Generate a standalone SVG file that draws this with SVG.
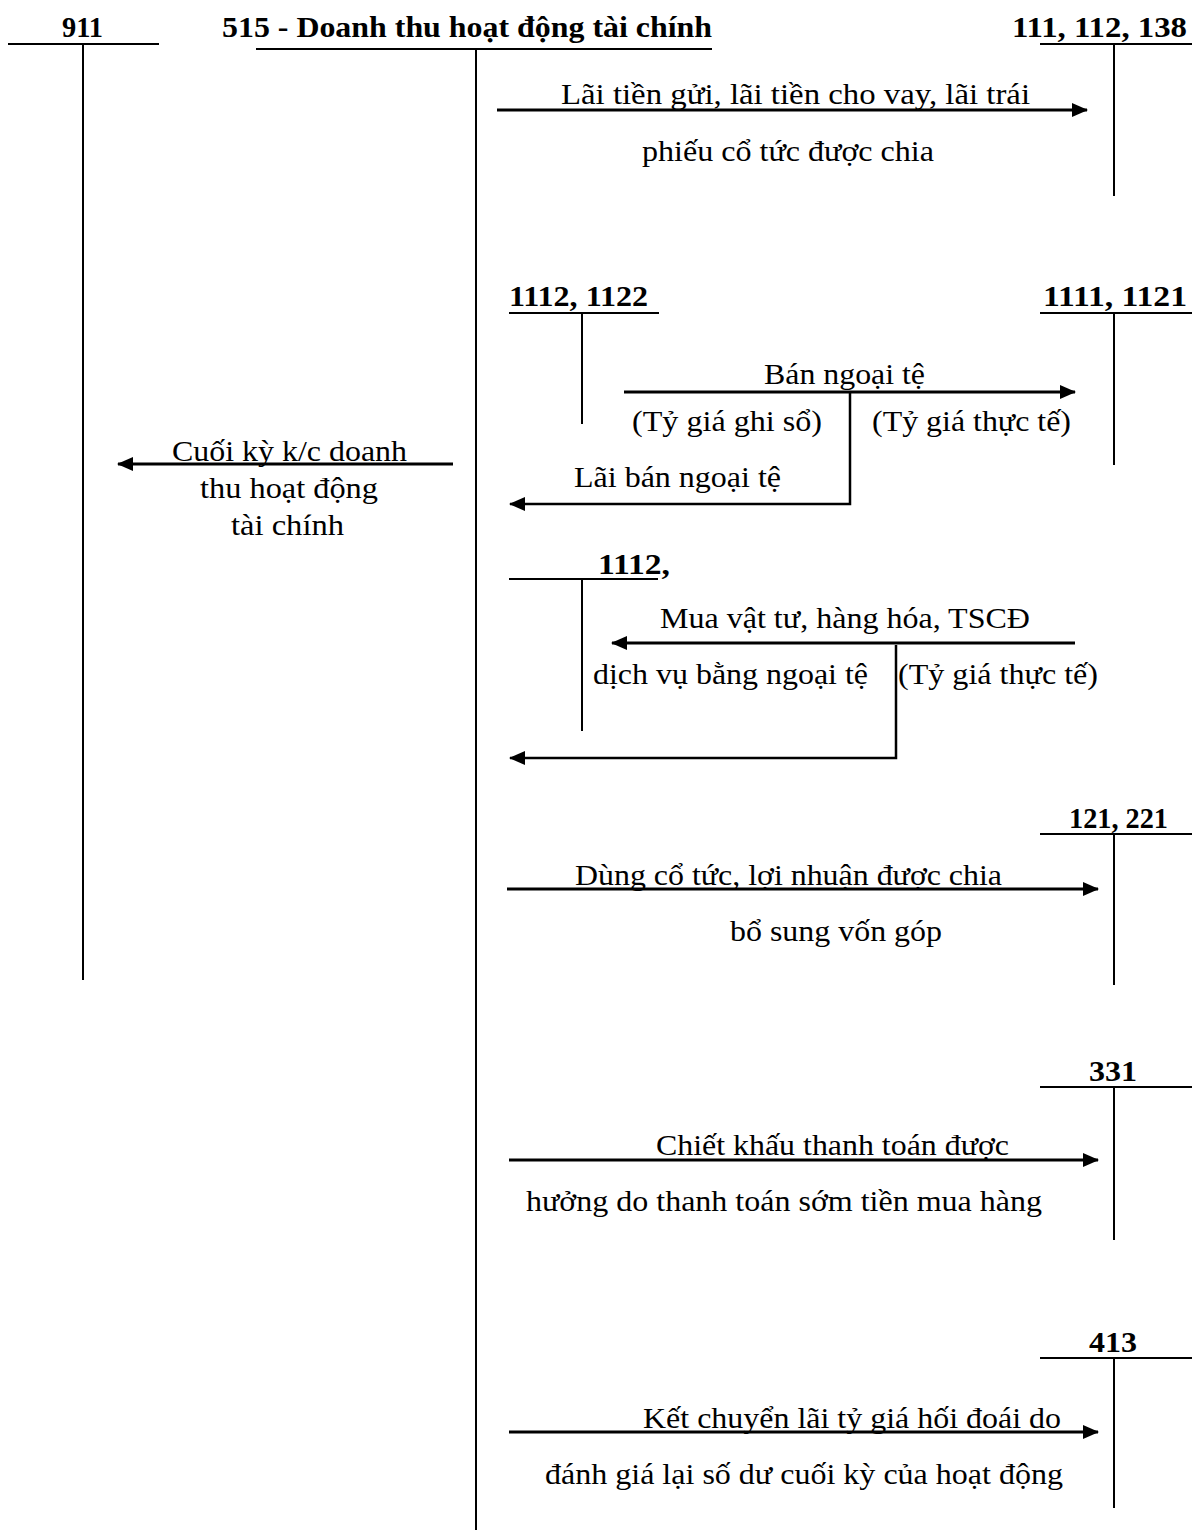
<svg xmlns="http://www.w3.org/2000/svg" width="1192" height="1530" viewBox="0 0 1192 1530">
<defs>
<style>
.h{font-family:"Liberation Serif","Times New Roman",serif;font-weight:bold;font-size:29px;fill:#000}
.t{font-family:"Liberation Serif","Times New Roman",serif;font-size:29px;fill:#000}
.acc{stroke:#000;stroke-width:2;fill:none}
.arr{stroke:#000;stroke-width:3;fill:none;marker-end:url(#ah)}
</style>
<marker id="ah" markerUnits="userSpaceOnUse" markerWidth="16" markerHeight="14" refX="15" refY="7" orient="auto">
<path d="M0,0 L16,7 L0,14 z" fill="#000"/>
</marker>
</defs>
<rect width="1192" height="1530" fill="#fff"/>

<g id="acc-911">
<text class="h" x="62" y="37" textLength="41" lengthAdjust="spacingAndGlyphs">911</text>
<path class="acc" d="M8,44 H159 M83,44 V980"/>
</g>
<g id="acc-515">
<text class="h" x="222" y="37" textLength="490" lengthAdjust="spacingAndGlyphs">515 - Doanh thu hoạt động tài chính</text>
<path class="acc" d="M256,49 H712 M476,49 V1530"/>
</g>
<g id="acc-111">
<text class="h" x="1012" y="37" textLength="175" lengthAdjust="spacingAndGlyphs">111, 112, 138</text>
<path class="acc" d="M1040,44 H1192 M1114,44 V196"/>
</g>
<g id="acc-1112-1122">
<text class="h" x="509" y="306" textLength="139" lengthAdjust="spacingAndGlyphs">1112, 1122</text>
<path class="acc" d="M509,313 H659 M582,313 V424"/>
</g>
<g id="acc-1111-1121">
<text class="h" x="1043" y="306" textLength="144" lengthAdjust="spacingAndGlyphs">1111, 1121</text>
<path class="acc" d="M1040,313 H1192 M1114,313 V465"/>
</g>
<g id="acc-1112">
<text class="h" x="598" y="574" textLength="72" lengthAdjust="spacingAndGlyphs">1112,</text>
<path class="acc" d="M509,579 H658 M582,579 V731"/>
</g>
<g id="acc-121-221">
<text class="h" x="1069" y="828" textLength="99" lengthAdjust="spacingAndGlyphs">121, 221</text>
<path class="acc" d="M1040,834 H1192 M1114,834 V985"/>
</g>
<g id="acc-331">
<text class="h" x="1089" y="1081" textLength="48" lengthAdjust="spacingAndGlyphs">331</text>
<path class="acc" d="M1040,1087 H1192 M1114,1087 V1240"/>
</g>
<g id="acc-413">
<text class="h" x="1089" y="1352" textLength="48" lengthAdjust="spacingAndGlyphs">413</text>
<path class="acc" d="M1040,1358 H1192 M1114,1358 V1508"/>
</g>

<g id="connectors">
<path class="arr" d="M497,110 H1087"/>
<path class="arr" d="M624,392 H1075"/>
<path class="arr" d="M850,392 V504 H510" style="stroke-width:2.5"/>
<path class="arr" d="M453,464 H118"/>
<path class="arr" d="M1075,643 H612"/>
<path class="arr" d="M896,645 V758 H510" style="stroke-width:2.5"/>
<path class="arr" d="M507,889 H1098"/>
<path class="arr" d="M509,1160 H1098"/>
<path class="arr" d="M509,1432 H1098"/>
</g>

<g id="labels">
<text class="t" x="561" y="104" textLength="469" lengthAdjust="spacingAndGlyphs">Lãi tiền gửi, lãi tiền cho vay, lãi trái</text>
<text class="t" x="642" y="161" textLength="292" lengthAdjust="spacingAndGlyphs">phiếu cổ tức được chia</text>
<text class="t" x="764" y="384" textLength="161" lengthAdjust="spacingAndGlyphs">Bán ngoại tệ</text>
<text class="t" x="632" y="431" textLength="190" lengthAdjust="spacingAndGlyphs">(Tỷ giá ghi sổ)</text>
<text class="t" x="872" y="431" textLength="199" lengthAdjust="spacingAndGlyphs">(Tỷ giá thực tế)</text>
<text class="t" x="574" y="487" textLength="207" lengthAdjust="spacingAndGlyphs">Lãi bán ngoại tệ</text>
<text class="t" x="172" y="461" textLength="235" lengthAdjust="spacingAndGlyphs">Cuối kỳ k/c doanh</text>
<text class="t" x="200" y="498" textLength="178" lengthAdjust="spacingAndGlyphs">thu hoạt động</text>
<text class="t" x="231" y="535" textLength="113" lengthAdjust="spacingAndGlyphs">tài chính</text>
<text class="t" x="660" y="628" textLength="370" lengthAdjust="spacingAndGlyphs">Mua vật tư, hàng hóa, TSCĐ</text>
<text class="t" x="593" y="684" textLength="275" lengthAdjust="spacingAndGlyphs">dịch vụ bằng ngoại tệ</text>
<text class="t" x="898" y="684" textLength="200" lengthAdjust="spacingAndGlyphs">(Tỷ giá thực tế)</text>
<text class="t" x="575" y="885" textLength="427" lengthAdjust="spacingAndGlyphs">Dùng cổ tức, lợi nhuận được chia</text>
<text class="t" x="730" y="941" textLength="212" lengthAdjust="spacingAndGlyphs">bổ sung vốn góp</text>
<text class="t" x="656" y="1155" textLength="353" lengthAdjust="spacingAndGlyphs">Chiết khấu thanh toán được</text>
<text class="t" x="526" y="1211" textLength="516" lengthAdjust="spacingAndGlyphs">hưởng do thanh toán sớm tiền mua hàng</text>
<text class="t" x="643" y="1428" textLength="418" lengthAdjust="spacingAndGlyphs">Kết chuyển lãi tỷ giá hối đoái do</text>
<text class="t" x="545" y="1484" textLength="518" lengthAdjust="spacingAndGlyphs">đánh giá lại số dư cuối kỳ của hoạt động</text>
</g>
</svg>
